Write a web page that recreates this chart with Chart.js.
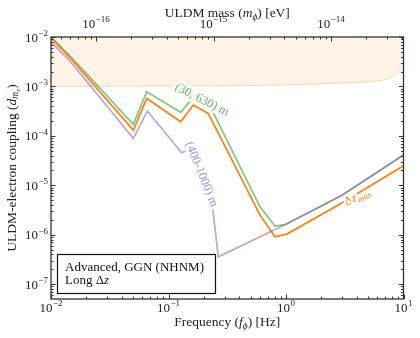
<!DOCTYPE html>
<html><head><meta charset="utf-8">
<script src="https://cdn.jsdelivr.net/npm/chart.js@4/dist/chart.umd.min.js"></script>
<style>html,body{margin:0;padding:0;background:#fff}canvas{display:block}</style>
</head><body>
<canvas id="c" width="420" height="338"></canvas>
<script>
// ---------------- data ----------------
const freqGreen  = [0.01, 0.0145, 0.0502, 0.0653, 0.127, 0.161, 0.230, 0.601, 0.806, 0.981, 3.0, 10];
const coupGreen  = [1.0e-2, 4.18e-3, 1.71e-4, 7.81e-4, 2.99e-4, 5.82e-4, 3.65e-4, 3.67e-6, 1.49e-6, 1.60e-6, 6.3e-6, 4.1e-5];
const freqOrange = [0.01, 0.0145, 0.0502, 0.0653, 0.127, 0.1626, 0.218, 0.601, 0.806, 1.014, 2.88, 10];
const coupOrange = [9.55e-3, 3.84e-3, 1.31e-4, 5.74e-4, 1.93e-4, 4.2e-4, 2.85e-4, 2.49e-6, 9.06e-7, 1.03e-6, 4.2e-6, 2.48e-5];
const freqPurple = [0.01, 0.0145, 0.0502, 0.0661, 0.1293, 0.1495, 0.2378, 0.2653, 0.981, 3.0, 10];
const coupPurple = [7.92e-3, 3.27e-3, 8.9e-5, 3.18e-4, 4.55e-5, 5.41e-5, 3.41e-6, 3.57e-7, 1.60e-6, 6.3e-6, 4.1e-5];
const freqBand   = [0.01, 0.3, 1, 2, 4, 6, 7.5, 8.7, 10];
const coupBand   = [1.0e-3, 1.03e-3, 1.07e-3, 1.13e-3, 1.2e-3, 1.3e-3, 1.45e-3, 1.75e-3, 2.5e-3];

const freqTickExps = [-2, -1, 0, 1];
const coupTickExps = [-7, -6, -5, -4, -3, -2];
const massTickExps = [-16, -15, -14];
const H_EV = 4.135667e-15; // eV s, m = h f

const X_MIN = 0.01, X_MAX = 10, Y_MIN = Math.pow(10, -7.3), Y_MAX = 1e-2;

const SERIF = '"Liberation Serif", "DejaVu Serif", serif';
const toPts = (f, v) => f.map((x, i) => ({x, y: v[i]}));

// ---------------- text helpers ----------------
function partFont(p, size) {
  const s = size * (p.sc || 1);
  return (p.i ? 'italic ' : '') + s.toFixed(2) + 'px ' + SERIF;
}
function richWidth(ctx, parts, size) {
  let w = 0;
  for (const p of parts) { ctx.font = partFont(p, size); w += ctx.measureText(p.t).width; }
  return w;
}
function drawRich(ctx, parts, x, y, size, align, color, halo) {
  const w = richWidth(ctx, parts, size);
  let cx = align === 'center' ? x - w / 2 : align === 'right' ? x - w : x;
  ctx.textAlign = 'left'; ctx.textBaseline = 'alphabetic';
  for (const p of parts) {
    ctx.font = partFont(p, size);
    const dy = (p.dy || 0) * size;
    if (halo) {
      ctx.strokeStyle = '#fff'; ctx.lineWidth = 5; ctx.lineJoin = 'round';
      ctx.strokeText(p.t, cx, y + dy);
    }
    ctx.fillStyle = color;
    ctx.fillText(p.t, cx, y + dy);
    cx += ctx.measureText(p.t).width;
  }
}
function drawPow(ctx, exp, x, y, align) {
  const base = '10', ex = (exp < 0 ? '\u2212' : '') + Math.abs(exp);
  ctx.font = '13px ' + SERIF; const wb = ctx.measureText(base).width;
  ctx.font = '9px ' + SERIF; const we = ctx.measureText(ex).width;
  const w = wb + we + 0.5;
  const x0 = align === 'center' ? x - w / 2 : align === 'right' ? x - w : x;
  ctx.fillStyle = '#222'; ctx.textAlign = 'left'; ctx.textBaseline = 'alphabetic';
  ctx.font = '13px ' + SERIF; ctx.fillText(base, x0, y);
  ctx.font = '9px ' + SERIF; ctx.fillText(ex, x0 + wb + 0.5, y - 5.5);
}

const lineLabels = [
  {f: 0.194, v: 5.56e-4, angle: 27, color: '#5fb85f', parts: [{t: '(30, 630) m'}]},
  {f: 0.194, v: 1.69e-5, angle: 68, color: '#a88bd3', parts: [{t: '(400-1000) m'}]},
  {f: 4.0, v: 6.04e-6, angle: -27, color: '#ff7f0e', parts: [{t: '\u0394'}, {t: 'z', i: 1}, {t: 'max', i: 1, sc: 0.7, dy: 0.22}]}
];

const decor = {
  id: 'decor',
  afterDraw(chart) {
    const ctx = chart.ctx, a = chart.chartArea, xs = chart.scales.x, ys = chart.scales.y;
    ctx.save();
    // line labels
    for (const L of lineLabels) {
      const px = xs.getPixelForValue(L.f), py = ys.getPixelForValue(L.v);
      ctx.save(); ctx.translate(px, py); ctx.rotate(L.angle * Math.PI / 180);
      drawRich(ctx, L.parts, 0, 4.2, 12.5, 'center', L.color, true);
      ctx.restore();
    }
    // legend box
    const bx = a.left + 6, by = a.bottom - 45, bw = 158, bh = 39;
    ctx.fillStyle = '#fff'; ctx.fillRect(bx, by, bw, bh);
    ctx.strokeStyle = '#111'; ctx.lineWidth = 1.2; ctx.strokeRect(bx + 0.5, by + 0.5, bw, bh);
    drawRich(ctx, [{t: 'Advanced, GGN (NHNM)'}], bx + 8, by + 17, 13, 'left', '#111');
    drawRich(ctx, [{t: 'Long \u0394'}, {t: 'z', i: 1}], bx + 8, by + 30, 13, 'left', '#111');

    // ticks
    ctx.strokeStyle = '#333'; ctx.lineWidth = 1;
    const tick = (x1, y1, x2, y2) => { ctx.beginPath(); ctx.moveTo(x1, y1); ctx.lineTo(x2, y2); ctx.stroke(); };
    for (let e = -3; e <= 1; e++) for (let k = 1; k <= 9; k++) {
      const f = k * Math.pow(10, e);
      if (f < X_MIN * 0.999 || f > X_MAX * 1.001) continue;
      const px = Math.round(xs.getPixelForValue(f)) + 0.5, len = k === 1 ? 4.5 : 2.5;
      tick(px, a.bottom, px, a.bottom - len);
    }
    for (let e = -18; e <= -13; e++) for (let k = 1; k <= 9; k++) {
      const f = k * Math.pow(10, e) / H_EV;
      if (f < X_MIN || f > X_MAX) continue;
      const px = Math.round(xs.getPixelForValue(f)) + 0.5, len = k === 1 ? 4.5 : 2.5;
      tick(px, a.top, px, a.top + len);
    }
    for (let e = -8; e <= -2; e++) for (let k = 1; k <= 9; k++) {
      const v = k * Math.pow(10, e);
      if (v < Y_MIN || v > Y_MAX * 1.001) continue;
      const py = Math.round(ys.getPixelForValue(v)) + 0.5, len = k === 1 ? 4.5 : 2.5;
      tick(a.left, py, a.left + len, py);
      tick(a.right, py, a.right - len, py);
    }
    // frame
    ctx.strokeStyle = '#333'; ctx.lineWidth = 1.3;
    ctx.strokeRect(a.left, a.top, a.right - a.left, a.bottom - a.top);

    // tick labels
    for (const e of freqTickExps) drawPow(ctx, e, xs.getPixelForValue(Math.pow(10, e)), a.bottom + 12.5, 'center');
    for (const e of coupTickExps) drawPow(ctx, e, a.left - 3, ys.getPixelForValue(Math.pow(10, e)) + 4.5, 'right');
    for (const e of massTickExps) drawPow(ctx, e, xs.getPixelForValue(Math.pow(10, e) / H_EV), a.top - 9.5, 'center');

    // axis titles
    const cxp = (a.left + a.right) / 2, cyp = (a.top + a.bottom) / 2;
    drawRich(ctx, [{t: 'Frequency ('}, {t: 'f', i: 1}, {t: '\u03d5', i: 1, sc: 0.7, dy: 0.22}, {t: ') [Hz]'}], cxp, 326, 13.5, 'center', '#222');
    drawRich(ctx, [{t: 'ULDM mass ('}, {t: 'm', i: 1}, {t: '\u03d5', i: 1, sc: 0.7, dy: 0.22}, {t: ') [eV]'}], cxp, 17, 13.5, 'center', '#222');
    ctx.save(); ctx.translate(15.5, cyp); ctx.rotate(-Math.PI / 2);
    drawRich(ctx, [{t: 'ULDM-electron coupling ('}, {t: 'd', i: 1}, {t: 'm', i: 1, sc: 0.7, dy: 0.22}, {t: 'e', i: 1, sc: 0.5, dy: 0.32}, {t: ')'}], 0, 0, 13.5, 'center', '#222');
    ctx.restore();
    ctx.restore();
  }
};

const lineDs = (label, f, v, color, order) => ({
  label, data: toPts(f, v), borderColor: color, borderWidth: 1.7, pointRadius: 0,
  tension: 0, fill: false, order
});

new Chart(document.getElementById('c'), {
  type: 'line',
  data: {
    datasets: [
      lineDs('(400-1000) m', freqPurple, coupPurple, 'rgba(148,103,189,0.6)', 1),
      lineDs('\u0394z_max', freqOrange, coupOrange, '#ff7f0e', 2),
      lineDs('(30, 630) m', freqGreen, coupGreen, 'rgba(44,160,44,0.6)', 3),
      {label: 'excluded', data: toPts(freqBand, coupBand), borderColor: 'rgba(255,127,14,0.28)',
       backgroundColor: 'rgba(255,127,14,0.1)', borderWidth: 1, pointRadius: 0,
       cubicInterpolationMode: 'monotone', fill: 'end', order: 4}
    ]
  },
  options: {
    responsive: false, devicePixelRatio: 1, animation: false, events: [],
    layout: {padding: {left: 51, right: 16.5, top: 37, bottom: 39}},
    scales: {
      x: {type: 'logarithmic', min: X_MIN, max: X_MAX, display: false},
      y: {type: 'logarithmic', min: Y_MIN, max: Y_MAX, display: false}
    },
    plugins: {legend: {display: false}, tooltip: {enabled: false}}
  },
  plugins: [decor]
});
</script>
</body></html>
